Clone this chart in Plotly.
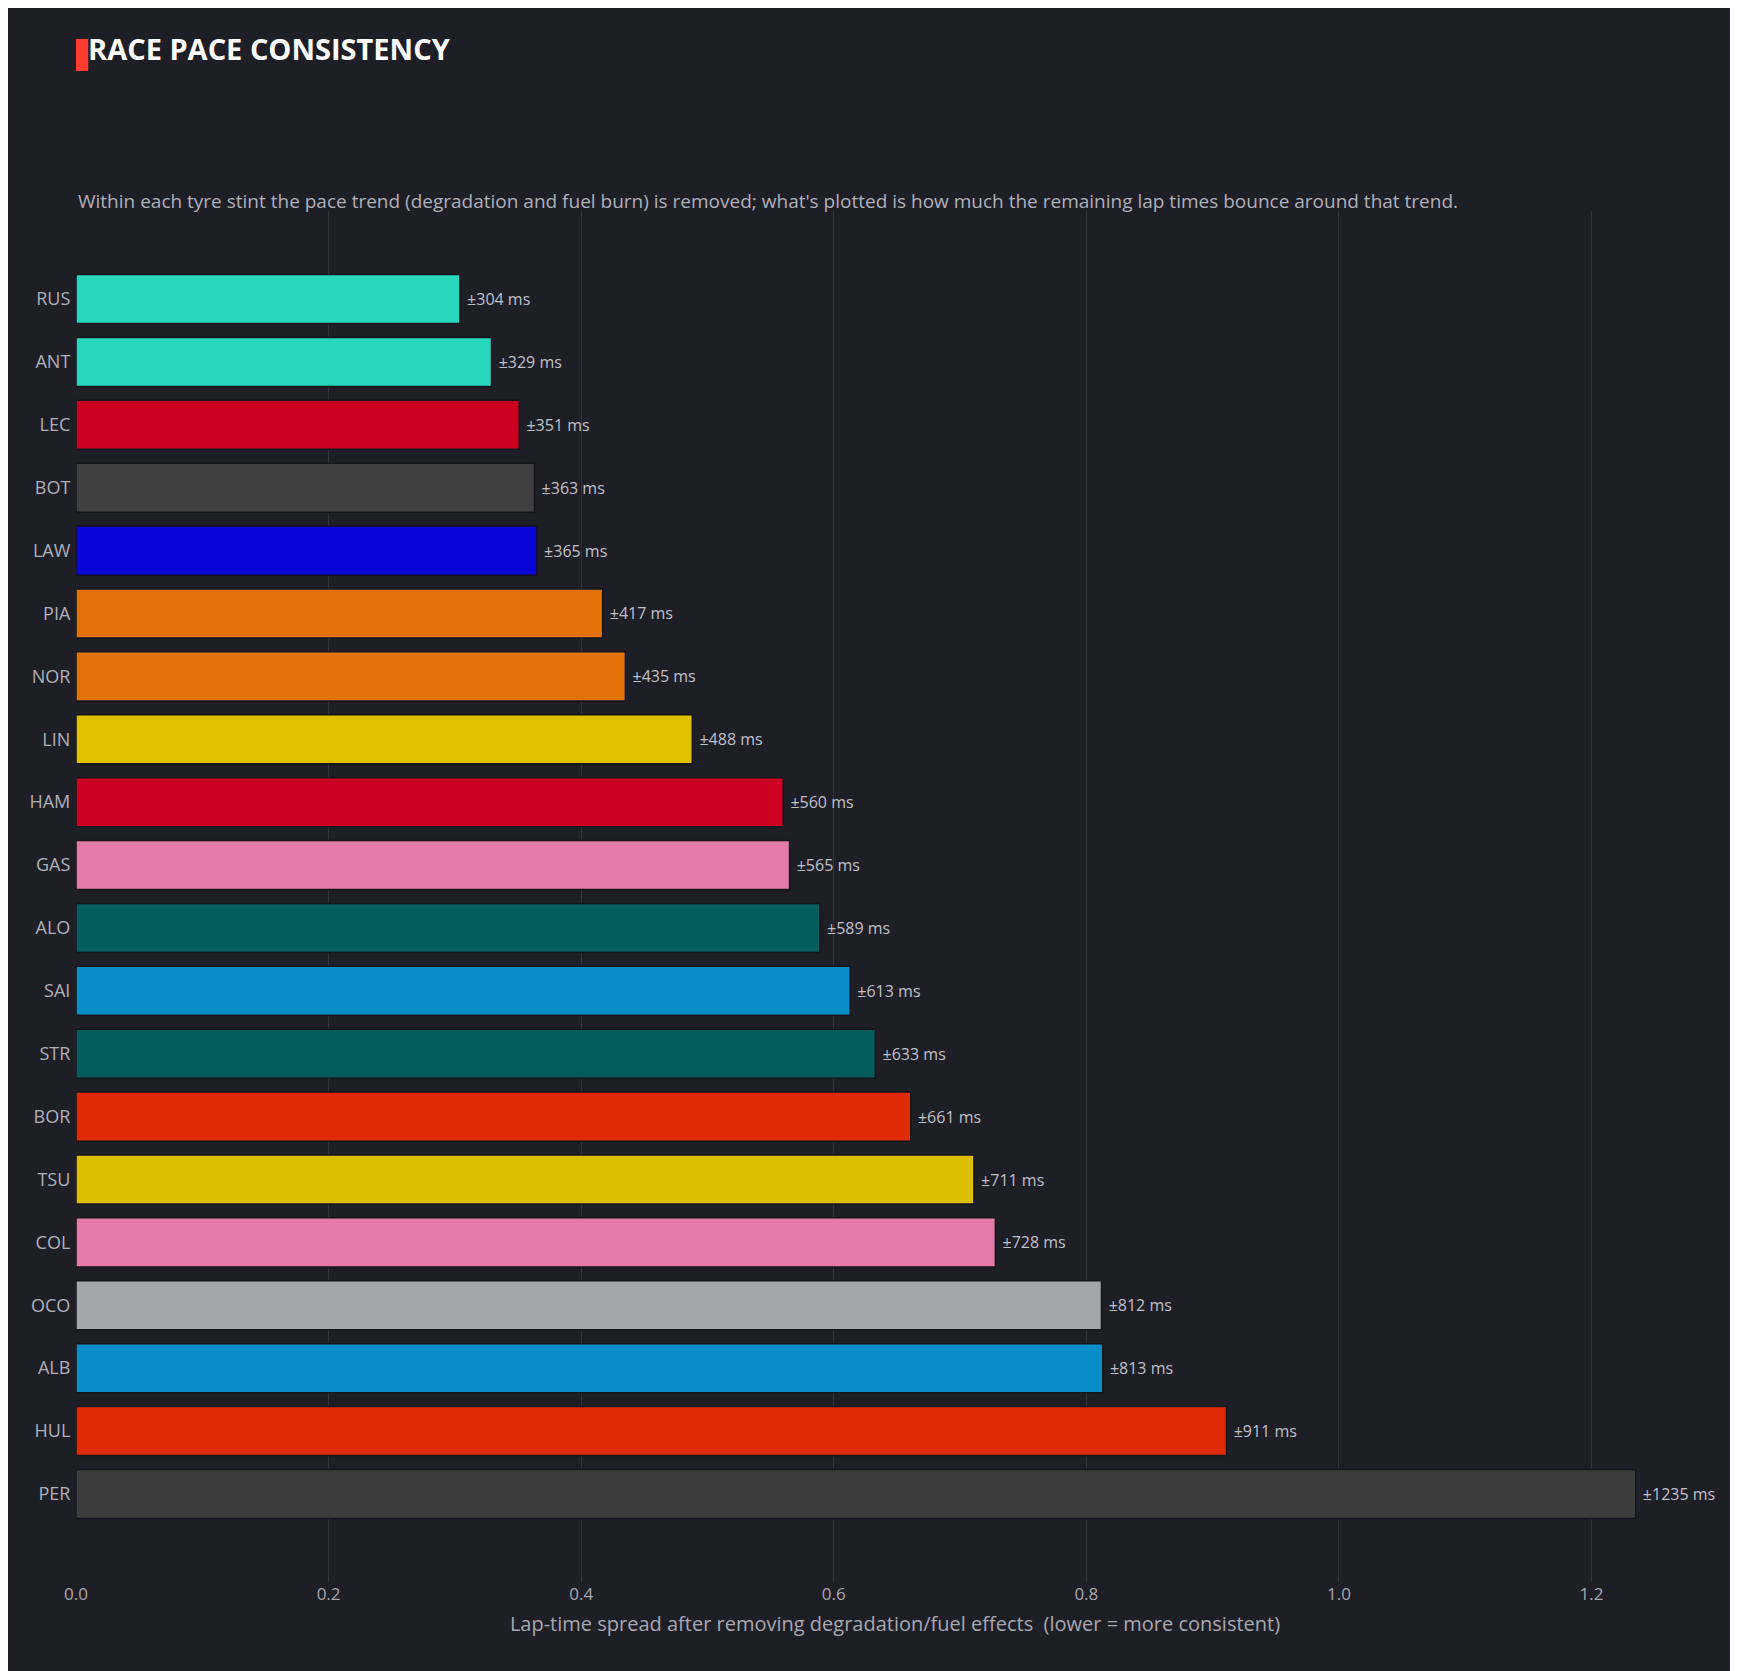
import plotly.graph_objects as go

drivers = ["RUS","ANT","LEC","BOT","LAW","PIA","NOR","LIN","HAM","GAS","ALO","SAI","STR","BOR","TSU","COL","OCO","ALB","HUL","PER"]
spread_ms = [304,329,351,363,365,417,435,488,560,565,589,613,633,661,711,728,812,813,911,1235]
colors = ["#27d8bd","#27d8bd","#cc0020","#404040","#0a05d8","#e37306","#e37306","#e0c203","#cc0020","#e37aaa",
          "#045d5a","#058ec7","#045d5a","#e02a05","#dcbf03","#e37aaa","#a3a6ab","#058ec7","#e02a05","#3d3d3d"]

vals = [v/1000 for v in spread_ms]
fig = go.Figure(go.Bar(
    x=vals, y=drivers, orientation="h",
    marker=dict(color=colors, line=dict(color="#15151b", width=1.5)),
    text=[f" ±{v} ms" for v in spread_ms], textposition="outside",
    textfont=dict(color="#c0c0c8", size=16), cliponaxis=False, width=0.78,
))
bg = "#1e1e27"
fig.update_layout(
    width=1738, height=1671, paper_bgcolor=bg, plot_bgcolor=bg,
    font=dict(family="Open Sans, Roboto, sans-serif", color="#b8b8c0", size=17),
    margin=dict(l=68, r=32, t=203, b=97), showlegend=False,
    xaxis=dict(range=[0, 1.297], dtick=0.2, tickformat=".1f", gridcolor="#33333f", zeroline=False,
               showline=False, ticks="", tickfont=dict(size=17, color="#a8a8b0"),
               title=dict(text="Lap-time spread after removing degradation/fuel effects  (lower = more consistent)",
                          font=dict(size=20, color="#a8a8b0"), standoff=12)),
    yaxis=dict(range=[20.4, -1.4], showgrid=False, ticks="", tickfont=dict(size=18, color="#b0b0b8"),
               ticksuffix=" "),
    annotations=[
        dict(text="<b>RACE PACE CONSISTENCY</b>", xref="paper", yref="paper", x=0, y=1, xanchor="left",
             yshift=163, yanchor="middle", showarrow=False, font=dict(size=29, color="#ffffff"), xshift=10),
        dict(text="Within each tyre stint the pace trend (degradation and fuel burn) is removed; what's plotted is how much the remaining lap times bounce around that trend.",
             xref="paper", yref="paper", x=0, y=1, xanchor="left", yanchor="middle", yshift=10, showarrow=False,
             font=dict(size=19, color="#b0b0b8")),
    ],
    shapes=[dict(type="rect", xref="paper", yref="paper", x0=0, x1=0.0075,
                 ysizemode="pixel", yanchor=1, y0=140, y1=172,
                 fillcolor="#ff3b30", line_width=0)],
)
fig.write_html("out.html")
